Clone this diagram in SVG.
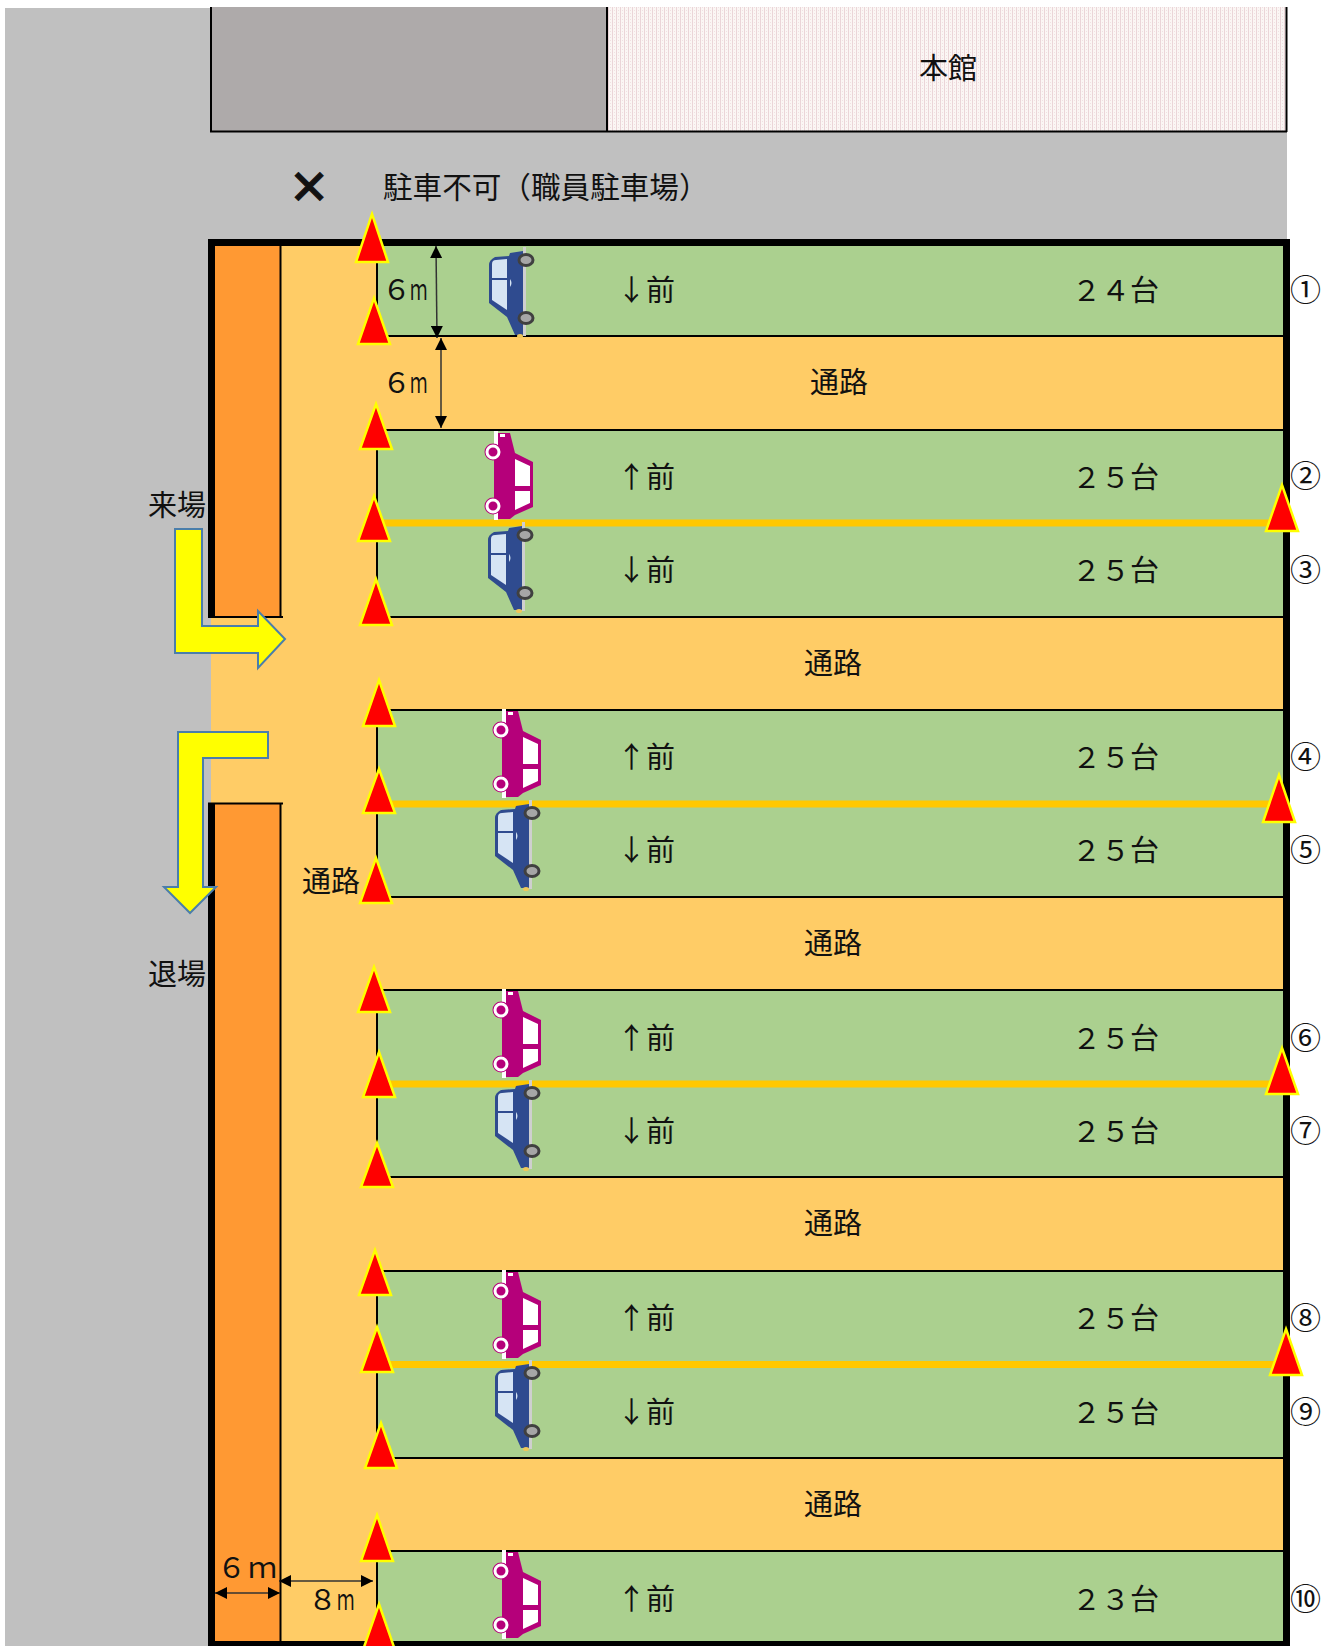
<svg xmlns="http://www.w3.org/2000/svg" width="1334" height="1646" viewBox="0 0 1334 1646">
<style>
text{font-family:"Noto Sans CJK JP","Noto Sans",sans-serif;font-size:29px;fill:#111}
.g{fill:#ABD08F}.o{fill:#FFCC66}.b{fill:#FF9933}
.l{stroke:#000;stroke-width:2;fill:none}
.y{stroke:#FFC800;stroke-width:7}
.c{fill:#FF0000;stroke:#FFFF00;stroke-width:2.5}
.a{fill:#FFFF00;stroke:#4A7EAB;stroke-width:2}
.d{stroke:#333;stroke-width:1.5;fill:none;marker-start:url(#h);marker-end:url(#h)}
.n{font-size:31px}
</style>
<defs>
<marker id="h" viewBox="0 0 12 12" refX="12" refY="6" markerWidth="12" markerHeight="12" markerUnits="userSpaceOnUse" orient="auto-start-reverse"><path d="M0 0L12 6L0 12Z" fill="#000"/></marker>
<pattern id="p" width="4" height="3" patternUnits="userSpaceOnUse"><rect width="4" height="3" fill="#FBF6F4"/><rect width="1" height="3" fill="#EBD5D8"/><rect x="2" y="1" width="1" height="1" fill="#F0E0E2"/></pattern>
<symbol id="blue" overflow="visible">
<path d="M-3-9L-16-7L-17-4L-31-3Q-37 0-37 5V43L-19 57L-11 75H-3Z" fill="#2F4B8F"/>
<path d="M-34 4Q-34 0-30 0L-19-1V18H-34Z" fill="#D6E4F4"/>
<path d="M-34 20H-19V50L-34 40Z" fill="#D6E4F4"/>
<path d="M-16 19Q-13 23-16 27Z" fill="#D6E4F4"/>
<rect x="-3" y="-13" width="3" height="89" fill="#CFCFCF"/>
<ellipse cx="-6" cy="76" rx="3" ry="2" fill="#F0C75A"/>
<ellipse cx="0" cy="0" rx="7" ry="5.500" fill="#A6A6A6" stroke="#404040" stroke-width="3"/>
<ellipse cx="0" cy="58" rx="7" ry="5.500" fill="#A6A6A6" stroke="#404040" stroke-width="3"/>
</symbol>
<symbol id="mag" overflow="visible">
<rect x="1" y="-21" width="4" height="14" fill="#fff"/>
<rect x="1" y="58" width="4" height="10" fill="#fff"/>
<path d="M5-19H17L22 1L40 10V55L22 63L17 67H5V50H1V4H5Z" fill="#B5007A"/>
<path d="M22 7L37 14V34H22Z" fill="#fff"/>
<path d="M22 39H37V51L22 58Z" fill="#fff"/>
<rect x="7" y="-18" width="5" height="3" fill="#fff"/>
<circle cx="0" cy="0" r="8.500" fill="#B5007A"/><circle cx="0" cy="0" r="6" fill="#B5007A" stroke="#fff" stroke-width="3"/>
<circle cx="0" cy="54" r="8.500" fill="#B5007A"/><circle cx="0" cy="54" r="6" fill="#B5007A" stroke="#fff" stroke-width="3"/>
</symbol>
</defs>
<rect width="1334" height="1646" fill="#fff"/>
<g id="ground">
<path d="M5 8H1287V246H211V1646H5Z" fill="#C0C0C0"/>
<rect x="211" y="240" width="1075" height="1401" class="o"/>
</g>
<g id="buildings">
<rect x="211" y="7" width="396" height="124" fill="#AEAAAA"/>
<rect x="607" y="7" width="680" height="124" fill="url(#p)"/>
<path class="l" d="M211 7V132M607 7V132M1286.500 7V132M210 131.500H1287"/>
<text x="919" y="79">本館</text>
</g>
<g id="rows">
<rect class="g" x="377" y="246" width="906" height="90"/>
<rect class="g" x="377" y="430" width="906" height="187"/>
<rect class="g" x="377" y="710" width="906" height="187"/>
<rect class="g" x="377" y="990" width="906" height="187"/>
<rect class="g" x="377" y="1271" width="906" height="187"/>
<rect class="g" x="377" y="1551" width="906" height="90"/>
<path class="l" d="M377 336H1283M377 430H1283M377 617H1283M377 710H1283M377 897H1283M377 990H1283M377 1177H1283M377 1271H1283M377 1458H1283M377 1551H1283"/>
<path class="l" d="M377 246V336M377 430V617M377 710V897M377 990V1177M377 1271V1458M377 1551V1641"/>
<path class="y" d="M377 523H1283M377 804H1283M377 1084H1283M377 1364.500H1283"/>
</g>
<g id="orange-blocks">
<rect class="b" x="215" y="246" width="65" height="371"/>
<rect class="b" x="215" y="803" width="65" height="838"/>
<path class="l" d="M280.500 246V617M208 617H283M208 803.500H283M280.500 803V1641"/>
</g>
<g id="outer-border" fill="#000">
<rect x="208" y="239" width="1082" height="7"/>
<rect x="208" y="239" width="7" height="378"/>
<rect x="208" y="803" width="7" height="843"/>
<rect x="1283" y="239" width="7" height="1407"/>
<rect x="208" y="1641" width="1082" height="5"/>
</g>
<g id="cars">
<use href="#blue" x="526" y="260"/>
<use href="#mag" x="493" y="452"/>
<use href="#blue" x="525" y="535"/>
<use href="#mag" x="501" y="730"/>
<use href="#blue" x="532" y="813"/>
<use href="#mag" x="501" y="1010"/>
<use href="#blue" x="532" y="1093"/>
<use href="#mag" x="501" y="1291"/>
<use href="#blue" x="532" y="1373"/>
<use href="#mag" x="501" y="1571"/>
</g>
<g id="cones">
<path class="c" d="M372 214L388 262H356Z"/>
<path class="c" d="M374 298L390 344H358Z"/>
<path class="c" d="M376 404L392 449H360Z"/>
<path class="c" d="M374 496L390 541H358Z"/>
<path class="c" d="M376 579L392 625H360Z"/>
<path class="c" d="M379 680L395 726H363Z"/>
<path class="c" d="M379 769L395 813H363Z"/>
<path class="c" d="M376 858L392 903H360Z"/>
<path class="c" d="M374 967L390 1012H358Z"/>
<path class="c" d="M379 1052L395 1097H363Z"/>
<path class="c" d="M377 1143L393 1187H361Z"/>
<path class="c" d="M375 1250L391 1295H359Z"/>
<path class="c" d="M377 1327L393 1372H361Z"/>
<path class="c" d="M381 1423L397 1468H365Z"/>
<path class="c" d="M377 1515L393 1561H361Z"/>
<path class="c" d="M379 1604L395 1650H363Z"/>
<path class="c" d="M1282 485L1298 531H1266Z"/>
<path class="c" d="M1279 775L1295 822H1263Z"/>
<path class="c" d="M1282 1048L1298 1094H1266Z"/>
<path class="c" d="M1286 1329L1302 1375H1270Z"/>
</g>
<g id="flow-arrows">
<path class="a" d="M175 529H202V626H258V611L285 639L258 668V653H175Z"/>
<path class="a" d="M178 732H268V758H203V887H216L190 913L164 887H178Z"/>
</g>
<g id="connectors">
<path class="d" d="M436 246L437 338"/>
<path class="d" d="M441 338V428"/>
<path class="d" d="M215 1593H280"/>
<path class="d" d="M279 1581H373"/>
</g>
<g id="labels">
<text x="289" y="204" style="font-size:48px;stroke:#111;stroke-width:1">✕</text>
<text x="383" y="198" style="font-size:29.600px">駐車不可（職員駐車場）</text>
<text x="148" y="516">来場</text>
<text x="148" y="985">退場</text>
<text x="302" y="892">通路</text>
<text x="810" y="393">通路</text>
<text x="804" y="674">通路</text>
<text x="804" y="954">通路</text>
<text x="804" y="1234">通路</text>
<text x="804" y="1515">通路</text>
<text x="382" y="300">６</text><text transform="translate(410 300) scale(.6 1)">ｍ</text>
<text x="382" y="393">６</text><text transform="translate(410 393) scale(.6 1)">ｍ</text>
<text x="217" y="1578">６</text><text x="248" y="1578">ｍ</text>
<text x="308" y="1610">８</text><text transform="translate(337 1610) scale(.6 1)">ｍ</text>
<text x="617" y="301">↓前</text>
<text x="617" y="488">↑前</text>
<text x="617" y="581">↓前</text>
<text x="617" y="768">↑前</text>
<text x="617" y="861">↓前</text>
<text x="617" y="1049">↑前</text>
<text x="617" y="1142">↓前</text>
<text x="617" y="1329">↑前</text>
<text x="617" y="1423">↓前</text>
<text x="617" y="1610">↑前</text>
<text x="1072" y="301">２４台</text>
<text x="1072" y="488">２５台</text>
<text x="1072" y="581">２５台</text>
<text x="1072" y="768">２５台</text>
<text x="1072" y="861">２５台</text>
<text x="1072" y="1049">２５台</text>
<text x="1072" y="1142">２５台</text>
<text x="1072" y="1329">２５台</text>
<text x="1072" y="1423">２５台</text>
<text x="1072" y="1610">２３台</text>
<text class="n" x="1290" y="301">①</text>
<text class="n" x="1290" y="487">②</text>
<text class="n" x="1290" y="581">③</text>
<text class="n" x="1290" y="768">④</text>
<text class="n" x="1290" y="861">⑤</text>
<text class="n" x="1290" y="1049">⑥</text>
<text class="n" x="1290" y="1142">⑦</text>
<text class="n" x="1290" y="1329">⑧</text>
<text class="n" x="1290" y="1423">⑨</text>
<text class="n" x="1290" y="1610">⑩</text>
</g>
</svg>
